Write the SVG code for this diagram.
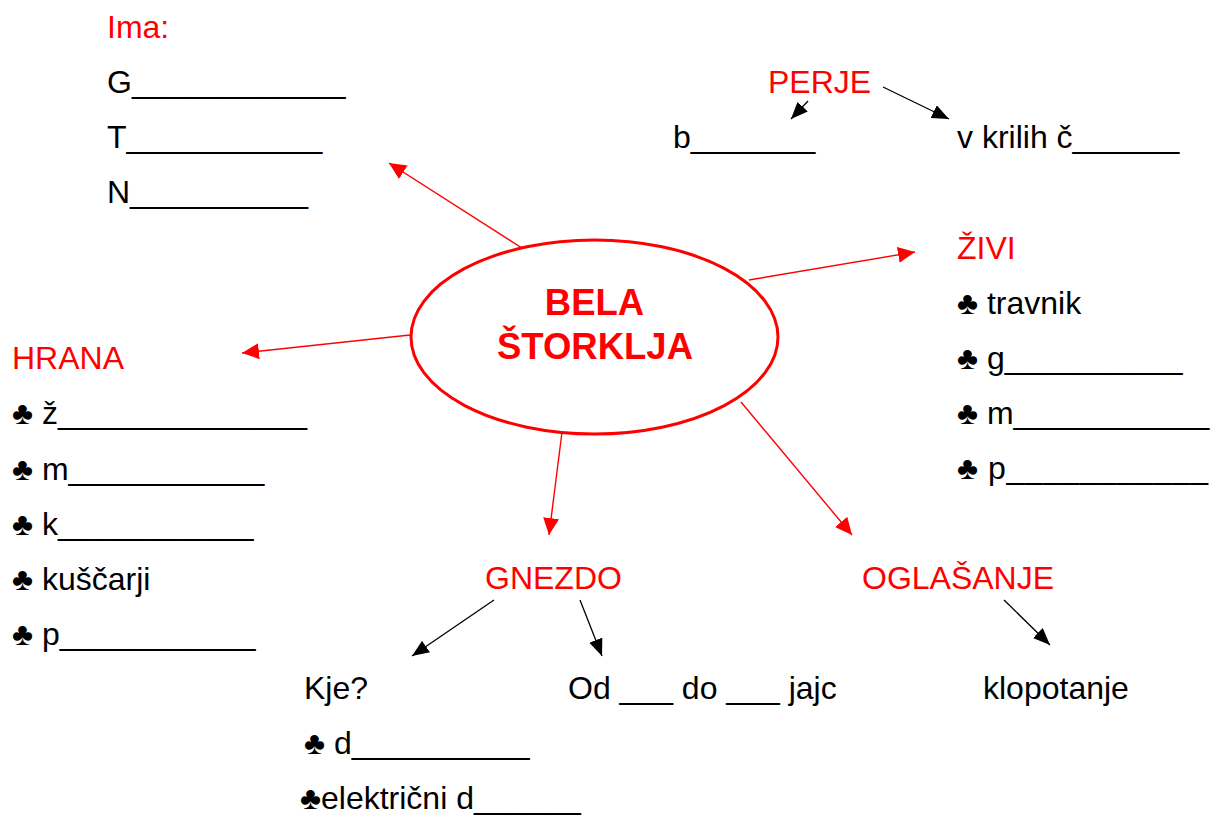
<svg xmlns="http://www.w3.org/2000/svg" width="1211" height="817" viewBox="0 0 1211 817">
<style>
  text { font-family: "Liberation Sans", Arial, sans-serif; font-size: 32px; fill: #000; }
  .r { fill: #ff0000; }
  .b { font-weight: bold; font-size: 36.5px; fill: #ff0000; }
  .rl { stroke: #ff0000; stroke-width: 1.4; fill: none; marker-end: url(#ar); }
  .bl { stroke: #000; stroke-width: 1.3; fill: none; marker-end: url(#ab); }
</style>
<defs>
  <marker id="ar" markerUnits="userSpaceOnUse" markerWidth="18" markerHeight="16" refX="17" refY="8" orient="auto">
    <path d="M0,0 L17,8 L0,16 z" fill="#ff0000"/>
  </marker>
  <marker id="ab" markerUnits="userSpaceOnUse" markerWidth="18" markerHeight="16" refX="17" refY="7" orient="auto">
    <path d="M0,0 L17,7 L0,14 z" fill="#000"/>
  </marker>
</defs>
<rect width="1211" height="817" fill="#fff"/>

<g id="connectors">
  <line class="rl" x1="522" y1="248" x2="389" y2="163"/>
  <line class="rl" x1="410" y1="335" x2="242" y2="353"/>
  <line class="rl" x1="749" y1="280" x2="915" y2="252"/>
  <line class="rl" x1="562" y1="432" x2="549" y2="535"/>
  <line class="rl" x1="741" y1="402" x2="852" y2="535"/>
  <line class="bl" x1="808" y1="101" x2="791" y2="119"/>
  <line class="bl" x1="883" y1="87" x2="949" y2="119"/>
  <line class="bl" x1="494" y1="600" x2="412" y2="656"/>
  <line class="bl" x1="580" y1="600" x2="602" y2="656"/>
  <line class="bl" x1="1004" y1="600" x2="1050" y2="645"/>
</g>

<g id="center">
  <ellipse cx="594.5" cy="337" rx="183.5" ry="97" fill="none" stroke="#ff0000" stroke-width="3"/>
  <text class="b" x="594.5" y="315" text-anchor="middle">BELA</text>
  <text class="b" x="595" y="359" text-anchor="middle">ŠTORKLJA</text>
</g>

<g id="ima">
  <text class="r" x="107" y="38">Ima:</text>
  <text x="107" y="93">G____________</text>
  <text x="107" y="148">T___________</text>
  <text x="107" y="203">N__________</text>
</g>

<g id="perje">
  <text class="r" x="768" y="93">PERJE</text>
  <text x="673" y="148">b_______</text>
  <text x="957" y="148">v krilih č______</text>
</g>

<g id="zivi">
  <text class="r" x="957" y="259">ŽIVI</text>
  <text x="957" y="314">♣ travnik</text>
  <text x="957" y="369">♣ g__________</text>
  <text x="957" y="424">♣ m___________</text>
  <text x="957" y="479" textLength="251" lengthAdjust="spacing">♣ p___________</text>
</g>

<g id="hrana">
  <text class="r" x="12" y="369">HRANA</text>
  <text x="12" y="424">♣ ž______________</text>
  <text x="12" y="480">♣ m___________</text>
  <text x="12" y="535">♣ k___________</text>
  <text x="12" y="590">♣ kuščarji</text>
  <text x="12" y="645">♣ p___________</text>
</g>

<g id="gnezdo">
  <text class="r" x="485" y="589">GNEZDO</text>
  <text x="304" y="699">Kje?</text>
  <text x="304" y="754">♣ d__________</text>
  <text x="300" y="809">♣električni d______</text>
  <text x="568" y="699">Od ___ do ___ jajc</text>
</g>

<g id="oglasanje">
  <text class="r" x="862" y="589">OGLAŠANJE</text>
  <text x="983" y="699">klopotanje</text>
</g>
</svg>
